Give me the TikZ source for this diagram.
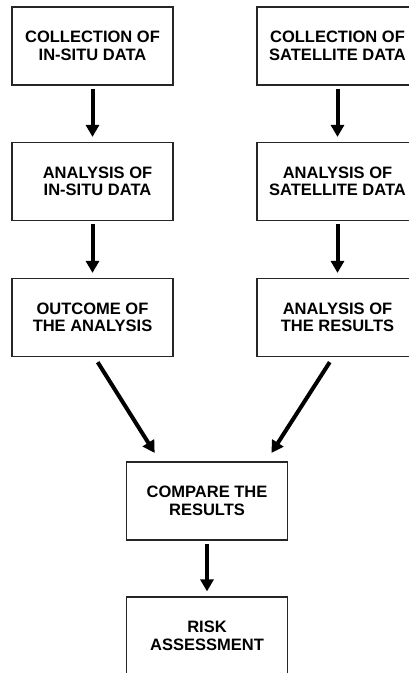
\documentclass[tikz,border=0pt]{standalone}
\usepackage{fontspec}
\setmainfont{Liberation Sans}
\usetikzlibrary{arrows.meta}
\begin{document}
\begin{tikzpicture}[x=1pt, y=-1pt]
% flow chart of the two data streams
\def\boxwd{161pt}
\def\boxht{78pt}
\providecommand{\flowLineWidth}{1.2pt}
\providecommand{\flowArrowWidth}{4pt}
\tikzset{
  flowbox/.style={draw=black!85, line width=\flowLineWidth, minimum width=\boxwd,
    minimum height=\boxht, inner sep=0pt, align=center,
    font=\fontsize{16.5}{17.5}\selectfont\bfseries},
  flowarrow/.style={line width=\flowArrowWidth, -{Triangle[length=12pt,width=13pt]},
    shorten <=3pt, shorten >=5pt},
  slantarrow/.style={flowarrow, shorten <=6pt, shorten >=10pt}
}
% page frame (the right column and the last box run past it)
\clip (0,0) rectangle (409,673);
% Left column
\node[flowbox] (insitu1) at (92.5,46) {COLLECTION OF\\IN-SITU DATA};
\node[flowbox] (insitu2) at (92.5,181.5) {\hspace*{10pt}ANALYSIS OF\\\hspace*{10pt}IN-SITU DATA};
\node[flowbox] (insitu3) at (92.5,317.5) {OUTCOME OF\\THE ANALYSIS};
% Right column
\node[flowbox] (sat1) at (337.5,46) {COLLECTION OF\\SATELLITE DATA};
\node[flowbox] (sat2) at (337.5,181.5) {ANALYSIS OF\\SATELLITE DATA};
\node[flowbox] (sat3) at (337.5,317.5) {ANALYSIS OF\\THE RESULTS};
% Bottom
\node[flowbox] (compare) at (207,501) {COMPARE THE\\RESULTS};
\node[flowbox] (risk) at (207,636) {RISK\\ASSESSMENT};
% Arrows
\draw[flowarrow] (insitu1) -- (insitu2);
\draw[flowarrow] (insitu2) -- (insitu3);
\draw[flowarrow] (sat1) -- (sat2);
\draw[flowarrow] (sat2) -- (sat3);
\draw[slantarrow] ([xshift=2pt]insitu3.south) -- ([xshift=-47pt]compare.north);
\draw[slantarrow] ([xshift=-4.5pt]sat3.south) -- ([xshift=59pt]compare.north);
\draw[flowarrow] (compare) -- (risk);
\end{tikzpicture}
\end{document}
